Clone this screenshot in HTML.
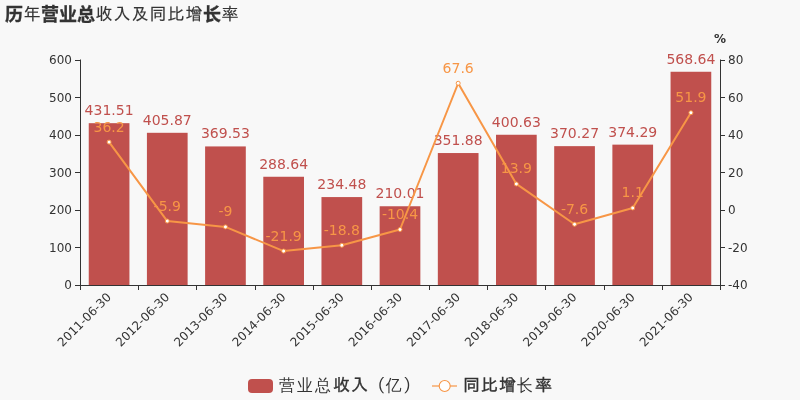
<!DOCTYPE html>
<html><head><meta charset="utf-8"><style>html,body{margin:0;padding:0;background:#f8f8f8;width:800px;height:400px;overflow:hidden}svg{display:block;will-change:transform}</style></head>
<body>
<svg width="800" height="400" viewBox="0 0 800 400">
<rect width="800" height="400" fill="#f8f8f8"/>
<rect x="88.74" y="123.18" width="40.7" height="161.82" fill="#c0504d"/>
<rect x="146.92" y="132.80" width="40.7" height="152.20" fill="#c0504d"/>
<rect x="205.10" y="146.43" width="40.7" height="138.57" fill="#c0504d"/>
<rect x="263.29" y="176.76" width="40.7" height="108.24" fill="#c0504d"/>
<rect x="321.47" y="197.07" width="40.7" height="87.93" fill="#c0504d"/>
<rect x="379.65" y="206.25" width="40.7" height="78.75" fill="#c0504d"/>
<rect x="437.83" y="153.04" width="40.7" height="131.96" fill="#c0504d"/>
<rect x="496.01" y="134.76" width="40.7" height="150.24" fill="#c0504d"/>
<rect x="554.20" y="146.15" width="40.7" height="138.85" fill="#c0504d"/>
<rect x="612.38" y="144.64" width="40.7" height="140.36" fill="#c0504d"/>
<rect x="670.56" y="71.76" width="40.7" height="213.24" fill="#c0504d"/>
<g stroke="#333" stroke-width="1" fill="none">
<line x1="80.5" y1="59.5" x2="80.5" y2="285"/>
<line x1="720.5" y1="59.5" x2="720.5" y2="285"/>
<line x1="80" y1="285.5" x2="720" y2="285.5"/>
<line x1="75" y1="60.5" x2="80" y2="60.5"/>
<line x1="720" y1="60.5" x2="725" y2="60.5"/>
<line x1="75" y1="97.5" x2="80" y2="97.5"/>
<line x1="720" y1="97.5" x2="725" y2="97.5"/>
<line x1="75" y1="135.5" x2="80" y2="135.5"/>
<line x1="720" y1="135.5" x2="725" y2="135.5"/>
<line x1="75" y1="172.5" x2="80" y2="172.5"/>
<line x1="720" y1="172.5" x2="725" y2="172.5"/>
<line x1="75" y1="210.5" x2="80" y2="210.5"/>
<line x1="720" y1="210.5" x2="725" y2="210.5"/>
<line x1="75" y1="247.5" x2="80" y2="247.5"/>
<line x1="720" y1="247.5" x2="725" y2="247.5"/>
<line x1="75" y1="285.5" x2="80" y2="285.5"/>
<line x1="720" y1="285.5" x2="725" y2="285.5"/>
<line x1="80.5" y1="285" x2="80.5" y2="290"/>
<line x1="138.5" y1="285" x2="138.5" y2="290"/>
<line x1="196.5" y1="285" x2="196.5" y2="290"/>
<line x1="255.5" y1="285" x2="255.5" y2="290"/>
<line x1="313.5" y1="285" x2="313.5" y2="290"/>
<line x1="371.5" y1="285" x2="371.5" y2="290"/>
<line x1="429.5" y1="285" x2="429.5" y2="290"/>
<line x1="487.5" y1="285" x2="487.5" y2="290"/>
<line x1="545.5" y1="285" x2="545.5" y2="290"/>
<line x1="604.5" y1="285" x2="604.5" y2="290"/>
<line x1="662.5" y1="285" x2="662.5" y2="290"/>
<line x1="720.5" y1="285" x2="720.5" y2="290"/>
</g>
<g font-family="'DejaVu Sans', 'Liberation Sans', sans-serif" font-size="12" fill="#333">
<text x="72" y="60.0" text-anchor="end" dominant-baseline="central">600</text>
<text x="728" y="60.0" text-anchor="start" dominant-baseline="central">80</text>
<text x="72" y="97.5" text-anchor="end" dominant-baseline="central">500</text>
<text x="728" y="97.5" text-anchor="start" dominant-baseline="central">60</text>
<text x="72" y="135.0" text-anchor="end" dominant-baseline="central">400</text>
<text x="728" y="135.0" text-anchor="start" dominant-baseline="central">40</text>
<text x="72" y="172.5" text-anchor="end" dominant-baseline="central">300</text>
<text x="728" y="172.5" text-anchor="start" dominant-baseline="central">20</text>
<text x="72" y="210.0" text-anchor="end" dominant-baseline="central">200</text>
<text x="728" y="210.0" text-anchor="start" dominant-baseline="central">0</text>
<text x="72" y="247.5" text-anchor="end" dominant-baseline="central">100</text>
<text x="728" y="247.5" text-anchor="start" dominant-baseline="central">-20</text>
<text x="72" y="285.0" text-anchor="end" dominant-baseline="central">0</text>
<text x="728" y="285.0" text-anchor="start" dominant-baseline="central">-40</text>
<text transform="translate(109.09,295) rotate(-45)" text-anchor="end" dominant-baseline="central">2011-06-30</text>
<text transform="translate(167.27,295) rotate(-45)" text-anchor="end" dominant-baseline="central">2012-06-30</text>
<text transform="translate(225.45,295) rotate(-45)" text-anchor="end" dominant-baseline="central">2013-06-30</text>
<text transform="translate(283.64,295) rotate(-45)" text-anchor="end" dominant-baseline="central">2014-06-30</text>
<text transform="translate(341.82,295) rotate(-45)" text-anchor="end" dominant-baseline="central">2015-06-30</text>
<text transform="translate(400.00,295) rotate(-45)" text-anchor="end" dominant-baseline="central">2016-06-30</text>
<text transform="translate(458.18,295) rotate(-45)" text-anchor="end" dominant-baseline="central">2017-06-30</text>
<text transform="translate(516.36,295) rotate(-45)" text-anchor="end" dominant-baseline="central">2018-06-30</text>
<text transform="translate(574.55,295) rotate(-45)" text-anchor="end" dominant-baseline="central">2019-06-30</text>
<text transform="translate(632.73,295) rotate(-45)" text-anchor="end" dominant-baseline="central">2020-06-30</text>
<text transform="translate(690.91,295) rotate(-45)" text-anchor="end" dominant-baseline="central">2021-06-30</text>
</g>
<text x="720" y="43" text-anchor="middle" font-family="'DejaVu Sans', 'Liberation Sans', sans-serif" font-size="12" font-weight="bold" fill="#333">%</text>
<g font-family="'DejaVu Sans', 'Liberation Sans', sans-serif" font-size="14" fill="#c0504d" text-anchor="middle">
<text x="109.09" y="115.23">431.51</text>
<text x="167.27" y="124.85">405.87</text>
<text x="225.45" y="138.48">369.53</text>
<text x="283.64" y="168.81">288.64</text>
<text x="341.82" y="189.12">234.48</text>
<text x="400.00" y="198.30">210.01</text>
<text x="458.18" y="145.09">351.88</text>
<text x="516.36" y="126.81">400.63</text>
<text x="574.55" y="138.20">370.27</text>
<text x="632.73" y="136.69">374.29</text>
<text x="690.91" y="63.81">568.64</text>
</g>
<polyline points="109.09,142.12 167.27,221.06 225.45,226.88 283.64,251.06 341.82,245.25 400.00,229.50 458.18,83.25 516.36,183.94 574.55,224.25 632.73,207.94 690.91,112.69" fill="none" stroke="#f79646" stroke-width="2" stroke-linejoin="round"/>
<circle cx="109.09" cy="142.12" r="2" fill="#fff" stroke="#f79646" stroke-width="1"/>
<circle cx="167.27" cy="221.06" r="2" fill="#fff" stroke="#f79646" stroke-width="1"/>
<circle cx="225.45" cy="226.88" r="2" fill="#fff" stroke="#f79646" stroke-width="1"/>
<circle cx="283.64" cy="251.06" r="2" fill="#fff" stroke="#f79646" stroke-width="1"/>
<circle cx="341.82" cy="245.25" r="2" fill="#fff" stroke="#f79646" stroke-width="1"/>
<circle cx="400.00" cy="229.50" r="2" fill="#fff" stroke="#f79646" stroke-width="1"/>
<circle cx="458.18" cy="83.25" r="2" fill="#fff" stroke="#f79646" stroke-width="1"/>
<circle cx="516.36" cy="183.94" r="2" fill="#fff" stroke="#f79646" stroke-width="1"/>
<circle cx="574.55" cy="224.25" r="2" fill="#fff" stroke="#f79646" stroke-width="1"/>
<circle cx="632.73" cy="207.94" r="2" fill="#fff" stroke="#f79646" stroke-width="1"/>
<circle cx="690.91" cy="112.69" r="2" fill="#fff" stroke="#f79646" stroke-width="1"/>
<g font-family="'DejaVu Sans', 'Liberation Sans', sans-serif" font-size="14" fill="#f79646" text-anchor="middle">
<text x="109.09" y="131.59">36.2</text>
<text x="167.27" y="210.53">-5.9</text>
<text x="225.45" y="216.34">-9</text>
<text x="283.64" y="240.53">-21.9</text>
<text x="341.82" y="234.72">-18.8</text>
<text x="400.00" y="218.97">-10.4</text>
<text x="458.18" y="72.72">67.6</text>
<text x="516.36" y="173.41">13.9</text>
<text x="574.55" y="213.72">-7.6</text>
<text x="632.73" y="197.41">1.1</text>
<text x="690.91" y="102.16">51.9</text>
</g>
<text x="5" y="21" font-family="'Liberation Sans', 'Noto Sans CJK SC', sans-serif" font-weight="bold" font-size="18" fill="#333" stroke="#333" stroke-width="0.3">历</text>
<text x="23.5" y="20.3" font-family="'Liberation Sans', 'IPAGothic', sans-serif" font-size="17" letter-spacing="1" fill="#333" stroke="#333" stroke-width="0.15">年</text>
<text x="41" y="21" font-family="'Liberation Sans', 'Noto Sans CJK SC', sans-serif" font-weight="bold" font-size="18" fill="#333" stroke="#333" stroke-width="0.3">营业总</text>
<text x="95.5" y="20.3" font-family="'Liberation Sans', 'IPAGothic', sans-serif" font-size="17" letter-spacing="1" fill="#333" stroke="#333" stroke-width="0.15">收入及同比增</text>
<text x="203" y="21" font-family="'Liberation Sans', 'Noto Sans CJK SC', sans-serif" font-weight="bold" font-size="18" fill="#333" stroke="#333" stroke-width="0.3">长</text>
<text x="221.5" y="20.3" font-family="'Liberation Sans', 'IPAGothic', sans-serif" font-size="17" letter-spacing="1" fill="#333" stroke="#333" stroke-width="0.15">率</text>
<rect x="248" y="379" width="25" height="14" rx="4" fill="#c0504d"/>
<text transform="translate(279,391) scale(0.875,0.93)" font-family="'Liberation Sans', 'WenQuanYi Zen Hei', sans-serif" font-size="18" fill="#333">营</text>
<text transform="translate(297,391) scale(0.875,0.93)" font-family="'Liberation Sans', 'WenQuanYi Zen Hei', sans-serif" font-size="18" fill="#333">业</text>
<text transform="translate(315,391) scale(0.875,0.93)" font-family="'Liberation Sans', 'WenQuanYi Zen Hei', sans-serif" font-size="18" fill="#333">总</text>
<text x="333" y="390.7" font-family="'Liberation Sans', 'IPAGothic', sans-serif" font-size="17" letter-spacing="1" fill="#333" stroke="#333" stroke-width="0.35">收入</text>
<text x="367.4" y="391.8" font-family="'Liberation Sans', 'IPAGothic', sans-serif" font-size="18" fill="#333">（</text>
<text transform="translate(385.8,391) scale(0.875,0.93)" font-family="'Liberation Sans', 'WenQuanYi Zen Hei', sans-serif" font-size="18" fill="#333">亿</text>
<text x="402.9" y="391.8" font-family="'Liberation Sans', 'IPAGothic', sans-serif" font-size="18" fill="#333">）</text>
<line x1="432" y1="386" x2="457" y2="386" stroke="#f79646" stroke-width="2" stroke-opacity="0.6"/>
<circle cx="444.7" cy="386" r="5.5" fill="#fff" stroke="#f79646" stroke-width="1.1"/>
<text x="463" y="390.7" font-family="'Liberation Sans', 'IPAGothic', sans-serif" font-size="17" letter-spacing="1" fill="#333" stroke="#333" stroke-width="0.35">同比增</text>
<text transform="translate(517,391) scale(0.875,0.93)" font-family="'Liberation Sans', 'WenQuanYi Zen Hei', sans-serif" font-size="18" fill="#333">长</text>
<text x="535" y="390.7" font-family="'Liberation Sans', 'IPAGothic', sans-serif" font-size="17" letter-spacing="1" fill="#333" stroke="#333" stroke-width="0.35">率</text>
</svg>
</body></html>
